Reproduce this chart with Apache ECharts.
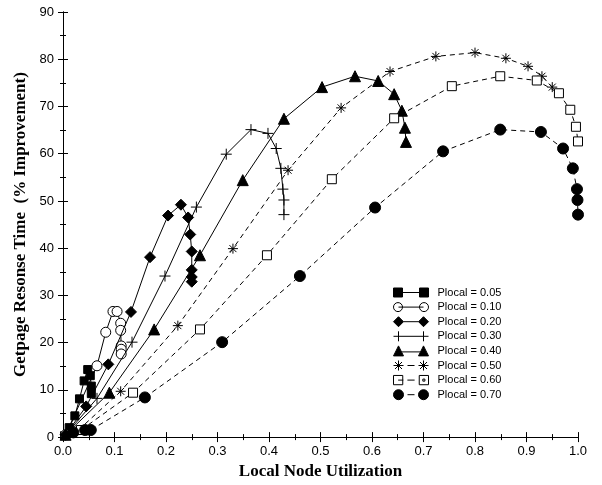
<!DOCTYPE html>
<html><head><meta charset="utf-8">
<script src="https://cdn.jsdelivr.net/npm/echarts@6/dist/echarts.min.js"></script>
<style>html,body{margin:0;padding:0;background:#fff}#c{width:602px;height:485px}</style>
</head><body><div id="c"></div>
<script>
const xTicks = [0,0.1,0.2,0.3,0.4,0.5,0.6,0.7,0.8,0.9,1.0];
const yTicks = [0,10,20,30,40,50,60,70,80,90];
const seriesNames = ['Plocal = 0.05','Plocal = 0.10','Plocal = 0.20','Plocal = 0.30','Plocal = 0.40','Plocal = 0.50','Plocal = 0.60','Plocal = 0.70'];
const p05 = [[0.003,0.3],[0.012,2.0],[0.023,4.5],[0.032,8.1],[0.041,11.9],[0.048,14.3],[0.053,13.0],[0.055,10.8],[0.055,9.2]];
const p10 = [[0.005,0.5],[0.066,15.1],[0.083,22.2],[0.097,26.6],[0.105,26.6],[0.112,24.1],[0.112,22.6],[0.113,19.3],[0.113,18.6],[0.113,17.6]];
const p20 = [[0.005,0.5],[0.045,6.5],[0.088,15.4],[0.132,26.5],[0.169,38.1],[0.204,46.9],[0.229,49.2],[0.243,46.5],[0.247,42.9],[0.250,39.3],[0.250,35.4],[0.250,33.9],[0.250,32.9]];
const p30 = [[0.005,0.5],[0.066,8.2],[0.134,20.1],[0.198,34.1],[0.259,48.7],[0.317,59.9],[0.365,65.1],[0.398,64.3],[0.414,61.1],[0.423,56.9],[0.427,52.5],[0.429,50.2],[0.429,47.1]];
const p40 = [[0.005,0.5],[0.090,9.4],[0.177,22.8],[0.266,38.5],[0.349,54.4],[0.429,67.4],[0.503,74.1],[0.567,76.4],[0.612,75.4],[0.643,72.6],[0.658,69.1],[0.664,65.5],[0.666,62.5]];
const p50 = [[0.03,1.5],[0.112,9.7],[0.223,23.6],[0.330,39.9],[0.437,56.5],[0.540,69.7],[0.635,77.4],[0.724,80.6],[0.800,81.4],[0.860,80.2],[0.903,78.5],[0.930,76.4],[0.950,74.1]];
const p60 = [[0.035,1.5],[0.136,9.4],[0.266,22.8],[0.396,38.5],[0.522,54.6],[0.643,67.5],[0.755,74.3],[0.849,76.4],[0.920,75.5],[0.963,72.8],[0.985,69.3],[0.996,65.7],[1.0,62.6]];
const p70 = [[0.02,1.0],[0.043,1.5],[0.054,1.5],[0.159,8.4],[0.309,20.1],[0.46,34.1],[0.606,48.6],[0.738,60.5],[0.849,65.1],[0.928,64.6],[0.971,61.1],[0.990,56.9],[0.998,52.5],[0.999,50.2],[1.0,47.1]];
const allData = [p05,p10,p20,p30,p40,p50,p60,p70];

const PLUS = 'path://M0,5H10M5,0V10';
const STAR = 'path://M0,5H10M5,0V10M1.5,1.5L8.5,8.5M8.5,1.5L1.5,8.5';
const styles = [
  {symbol:'rect', size:8, fill:'#000', dash:'solid',
   icon:'path://M0,0.5h9v9h-9zM26,0.5h9v9h-9zM9,5H26'},
  {symbol:'circle', size:10, fill:'#fff', dash:'solid',
   icon:'path://M0,5a4.5,4.5 0 1,0 9,0a4.5,4.5 0 1,0 -9,0zM26,5a4.5,4.5 0 1,0 9,0a4.5,4.5 0 1,0 -9,0zM5,5H30'},
  {symbol:'diamond', size:11, fill:'#000', dash:'solid',
   icon:'path://M0,5L5,0L10,5L5,10zM25,5L30,0L35,5L30,10zM10,5H25'},
  {symbol:PLUS, size:11, fill:'none', dash:'solid',
   icon:'path://M0,5H35M5,0V10M30,0V10'},
  {symbol:'triangle', size:11, fill:'#000', dash:'solid',
   icon:'path://M0,10L5,0L10,10zM25,10L30,0L35,10zM8,6H27'},
  {symbol:STAR, size:10, fill:'none', dash:[5,4],
   icon:'path://M0,5H10M5,0V10M1.5,1.5L8.5,8.5M8.5,1.5L1.5,8.5M25,5H35M30,0V10M26.5,1.5L33.5,8.5M33.5,1.5L26.5,8.5M14,5H21'},
  {symbol:'rect', size:9, fill:'#fff', dash:[5,4],
   icon:'path://M0.5,0.5h9v9h-9zM25.5,0.5h9v9h-9zM29,4h2v2h-2zM5,5H10M14,5H21'},
  {symbol:'circle', size:11, fill:'#000', dash:[5,4],
   icon:'path://M0,5a5,5 0 1,0 10,0a5,5 0 1,0 -10,0zM25,5a5,5 0 1,0 10,0a5,5 0 1,0 -10,0zM14,5H21'}
];

const labelFont = {fontFamily:'Liberation Sans', fontSize:13, color:'#000'};
const nameFont = {fontFamily:'Liberation Serif', fontWeight:'bold', fontSize:17, color:'#000'};
const lineBlack = {show:true, lineStyle:{color:'#000', width:1}};

function xAx(pos, showLabel){
  return {type:'value', min:0, max:1, interval:0.1, position:pos,
    axisLine:lineBlack, axisTick:{show:true, inside:true, length:5, lineStyle:{color:'#000'}},
    minorTick:{show:true, splitNumber:2, length:3, lineStyle:{color:'#000'}},
    axisLabel:Object.assign({show:showLabel, margin:8,
      formatter:v=>{const t=xTicks.find(k=>Math.abs(k-v)<1e-9);return t===undefined?'':t.toFixed(1);}}, labelFont),
    splitLine:{show:false}, minorSplitLine:{show:false}};
}
function yAx(pos, showLabel){
  return {type:'value', min:0, max:90, interval:10, position:pos,
    axisLine:lineBlack, axisTick:{show:true, inside:true, length:5, lineStyle:{color:'#000'}},
    minorTick:{show:true, splitNumber:2, length:3, lineStyle:{color:'#000'}},
    axisLabel:Object.assign({show:showLabel, margin:9,
      formatter:v=>{const t=yTicks.find(k=>Math.abs(k-v)<1e-9);return t===undefined?'':String(t);}}, labelFont),
    splitLine:{show:false}, minorSplitLine:{show:false}};
}
const xa0 = xAx('bottom', true);
xa0.name = 'Local Node Utilization'; xa0.nameLocation='middle'; xa0.nameGap=18; xa0.nameTextStyle=nameFont;
const ya0 = yAx('left', true);
ya0.name = 'Getpage Resonse Time  (% Improvement)'; ya0.nameLocation='middle'; ya0.nameGap=30; ya0.nameTextStyle=nameFont;

const series = allData.map((d,i)=>{
  const s = styles[i];
  return {type:'line', name:seriesNames[i], data:d, xAxisIndex:0, yAxisIndex:0,
    symbol:s.symbol, symbolSize:s.size, showAllSymbol:true,
    lineStyle:{color:'#000', width:1, type:s.dash},
    itemStyle:{color:s.fill==='none'?'#000':s.fill, borderColor:'#000', borderWidth:1},
    emphasis:{disabled:true}, z:2+i};
});
// path symbols (plus/star) should only be stroked
series[3].itemStyle.color = '#000';
series[5].itemStyle.color = '#000';

const legendData = seriesNames.map((n,i)=>({name:n, icon:styles[i].icon,
  itemStyle:{color:(styles[i].fill==='#fff')?'#fff':'#000', borderColor:'#000', borderWidth:1}}));

const chart = echarts.init(document.getElementById('c'), null, {renderer:'canvas'});
chart.setOption({
  animation:false,
  backgroundColor:'#fff',
  grid:{left:63, right:24, top:12, bottom:43, containLabel:false},
  xAxis:[xa0, xAx('top', false)],
  yAxis:[ya0, yAx('right', false)],
  legend:{data:legendData, orient:'vertical', left:388, top:282, itemWidth:35, itemHeight:10, itemGap:3.6,
    textStyle:{fontFamily:'Liberation Sans', fontSize:11, color:'#000', padding:[0,0,0,4]},
    selectedMode:false},
  series:series
});
</script></body></html>
